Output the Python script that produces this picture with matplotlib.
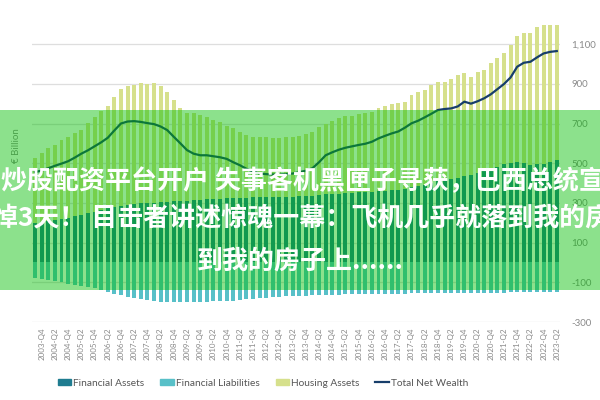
import matplotlib
matplotlib.use("Agg")
import matplotlib.pyplot as plt
from matplotlib.patches import Rectangle, Patch
from matplotlib.lines import Line2D
import numpy as np

plt.rcParams['font.family'] = ['Lato', 'DejaVu Sans']

# ---- data (EUR billion), quarters 2003-Q3 .. 2023-Q2 ----
quarters = []
for yr in range(2003, 2024):
    for q in range(1, 5):
        if (yr == 2003 and q < 3) or (yr == 2023 and q > 2):
            continue
        quarters.append(f"{yr}-Q{q}")

financial_assets = [200, 205, 210, 215, 220, 225, 232, 240, 248, 255,
                    265, 272, 280, 285, 290, 295, 298, 300, 302, 303,
                    305, 308, 310, 312, 314, 316, 318, 320, 322, 324,
                    325, 326, 327, 328, 328, 329, 330, 330, 331, 332,
                    333, 335, 337, 340, 343, 345, 347, 349, 351, 353,
                    355, 357, 359, 361, 363, 365, 370, 378, 385, 392,
                    400, 408, 415, 420, 425, 435, 442, 450, 460, 470,
                    482, 496, 502, 507, 502, 491, 494, 496, 507, 516]

total_assets = [526, 551, 576, 591, 617, 632, 652, 667, 702, 732,
                765, 790, 835, 875, 888, 893, 903, 898, 903, 888,
                858, 818, 778, 755, 752, 742, 732, 717, 707, 685,
                677, 657, 640, 632, 630, 630, 628, 628, 630, 632,
                638, 645, 657, 680, 700, 715, 730, 740, 737, 750,
                752, 756, 778, 790, 800, 805, 810, 843, 860, 868,
                893, 910, 910, 922, 944, 952, 935, 961, 969, 1003,
                1028, 1056, 1095, 1140, 1154, 1157, 1184, 1196, 1196, 1196]

financial_liabilities = [-78, -83, -90, -95, -100, -107, -113, -120, -125, -131,
                         -141, -148, -158, -164, -174, -181, -186, -191, -194, -198,
                         -198, -198, -198, -198, -198, -198, -198, -195, -195, -195,
                         -195, -190, -186, -183, -180, -177, -175, -173, -171, -170,
                         -168, -167, -166, -165, -164, -163, -162, -161, -161, -160,
                         -160, -159, -159, -158, -158, -157, -157, -156, -156, -155,
                         -155, -155, -154, -154, -153, -153, -153, -153, -152, -152,
                         -152, -152, -151, -151, -151, -151, -150, -150, -150, -150]

total_net_wealth = [455, 463, 475, 487, 498, 510, 528, 548, 565, 585,
                    605, 628, 665, 700, 710, 712, 708, 702, 697, 685,
                    667, 633, 600, 566, 548, 540, 540, 535, 530, 522,
                    505, 490, 472, 458, 448, 445, 443, 443, 445, 448,
                    455, 462, 475, 505, 540, 555, 568, 578, 585, 592,
                    598, 608, 625, 638, 650, 660, 679, 701, 714, 731,
                    749, 768, 773, 776, 786, 810, 800, 812, 827, 847,
                    873, 899, 932, 986, 1006, 1011, 1033, 1053, 1061, 1065]

housing_assets = [t - f for t, f in zip(total_assets, financial_assets)]

y_ticks = [-300, -100, 100, 300, 500, 700, 900, 1100]

c_fa = '#1f7c90'
c_fl = '#58c0c8'
c_ha = '#d6e08c'
c_nw = '#173e6a'

fig = plt.figure(figsize=(6, 4), dpi=100)
ax = fig.add_axes([0.053, 0.195, 0.8805, 0.789])

x = np.arange(len(quarters))
w = 0.6
ax.bar(x, financial_assets, w, color=c_fa, zorder=2)
ax.bar(x, housing_assets, w, bottom=financial_assets, color=c_ha, zorder=2)
ax.bar(x, financial_liabilities, w, color=c_fl, zorder=2)
ax.plot(x, total_net_wealth, color=c_nw, lw=1.6, zorder=3)

ax.set_xlim(-0.5, len(quarters) - 0.5)
ax.set_ylim(-300, 1290)
ax.set_yticks(y_ticks)
ax.set_yticklabels([f"{v:,}" for v in y_ticks])
ax.yaxis.tick_right()
ax.tick_params(axis='y', length=0, pad=8, labelsize=7, labelcolor='#8a8a8a')
ax.grid(axis='y', color='#dedede', lw=0.9, zorder=0)
ax.set_axisbelow(True)
ax.set_xticks(x[1::2])
ax.set_xticklabels(quarters[1::2], rotation=90, fontsize=5.8, color='#8a8a8a')
ax.tick_params(axis='x', length=0, pad=4)
for s in ax.spines.values():
    s.set_visible(False)

fig.text(0.028, 1 - 146 / 400, '€ Billion', rotation=90, ha='center', va='center',
         fontsize=7, color='#8a8a8a')

handles = [Patch(color=c_fa), Patch(color=c_fl), Patch(color=c_ha),
           Line2D([0], [0], color=c_nw, lw=1.6)]
labels = ['Financial Assets', 'Financial Liabilities', 'Housing Assets', 'Total Net Wealth']
fig.legend(handles, labels, loc='center', bbox_to_anchor=(263 / 600, 1 - 383 / 400),
           ncol=4, frameon=False, fontsize=7.3, handlelength=1.3, handleheight=0.5,
           handletextpad=0.2, columnspacing=1.6, labelcolor='#555555')

# overlay banner
fig.add_artist(Rectangle((0, 1 - 290 / 400), 1, 180 / 400, transform=fig.transFigure,
                         facecolor=(0, 190 / 255, 0), alpha=0.45, edgecolor='none', zorder=10))
cjk = ['Noto Sans CJK SC', 'DejaVu Sans']
fs = 18.7
fig.text(1 / 600, 1 - 182 / 400, '炒股配资平台开户 失事客机黑匣子寻获，巴西总统宣',
         family=cjk, fontsize=fs, fontweight='heavy', color='white', ha='left', va='center', zorder=11)
fig.text(-8 / 600, 1 - 219 / 400, '悼3天！ 目击者讲述惊魂一幕：飞机几乎就落到我的房',
         family=cjk, fontsize=fs, fontweight='heavy', color='white', ha='left', va='center', zorder=11)
fig.text(300 / 600, 1 - 261 / 400, '到我的房子上......',
         family=cjk, fontsize=fs, fontweight='heavy', color='white', ha='center', va='center', zorder=11)

fig.savefig('out.png', dpi=100)
